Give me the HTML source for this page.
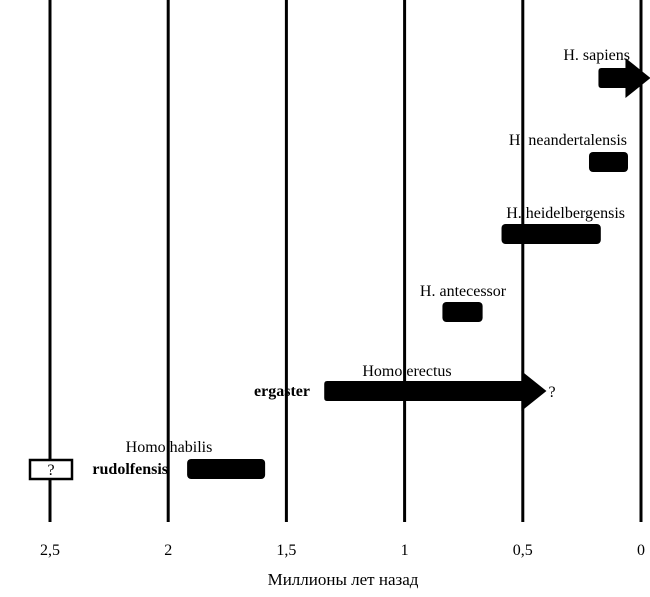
<!DOCTYPE html>
<html><head><meta charset="utf-8"><style>
html,body{margin:0;padding:0;background:#fff;}
svg{display:block;}
text{font-family:"Liberation Serif",serif;fill:#000;}
</style></head><body>
<svg id="chart" width="650" height="597" viewBox="0 0 650 597" xmlns="http://www.w3.org/2000/svg">
<g id="grid"></g><g id="bars"></g><g id="labels"></g>
<text x="343" y="585" font-size="17" text-anchor="middle">Миллионы лет назад</text>
</svg>
<script>
const ticks = [2.5, 2, 1.5, 1, 0.5, 0];
const tickLabels = ["2,5", "2", "1,5", "1", "0,5", "0"];
const species = ["H. sapiens", "H. neandertalensis", "H. heidelbergensis", "H. antecessor", "Homo erectus", "Homo habilis"];
const startMa = [0.18, 0.22, 0.59, 0.84, 1.34, 1.92];
const endMa = [-0.04, 0.055, 0.17, 0.67, 0.4, 1.59];
const arrow = [true, false, false, false, true, false];
const rowY = [78, 162, 234, 312, 391, 469];

const NS = "http://www.w3.org/2000/svg";
function x(v){ return 641 - v * 236.4; }
function mk(tag, attrs, parent){
  const e = document.createElementNS(NS, tag);
  for (const k in attrs) e.setAttribute(k, attrs[k]);
  parent.appendChild(e); return e;
}
const grid = document.getElementById('grid');
const bars = document.getElementById('bars');
const labels = document.getElementById('labels');

ticks.forEach((t, i) => {
  const l = mk('line', {x1: x(t), x2: x(t), y1: 0, y2: 522, stroke: '#000', 'stroke-width': 3}, grid);
  
  
  const tx = mk('text', {x: x(t), y: 555, 'font-size': 16, 'text-anchor': 'middle'}, grid);
  tx.textContent = tickLabels[i];
  
  
});

species.forEach((s, i) => {
  const x0 = x(startMa[i]), x1 = x(endMa[i]), cy = rowY[i];
  let el;
  if (arrow[i]) {
    const head = 25, hw = 20, sw = 10;
    const xs = x1 - head;
    el = mk('path', {d: `M${x0+3},${cy-sw} L${xs},${cy-sw} L${xs},${cy-hw} L${x1},${cy} L${xs},${cy+hw} L${xs},${cy+sw} L${x0+3},${cy+sw} Q${x0},${cy+sw} ${x0},${cy+sw-3} L${x0},${cy-sw+3} Q${x0},${cy-sw} ${x0+3},${cy-sw} Z`, fill: '#000'}, bars);
  } else {
    el = mk('rect', {x: x0, y: cy - 10, width: x1 - x0, height: 20, rx: 4, fill: '#000'}, bars);
  }
  
  
});

// labels
function label(t, xx, yy, anchor, bold, name){
  const e = mk('text', {x: xx, y: yy, 'font-size': 16, 'text-anchor': anchor}, labels);
  if (bold) e.setAttribute('font-weight', 'bold');
  e.textContent = t;
  
  
}
label("H. sapiens", 630, 60, 'end', false, 'label-sapiens');
label("H. neandertalensis", 627, 145, 'end', false, 'label-neandertalensis');
label("H. heidelbergensis", 625, 218, 'end', false, 'label-heidelbergensis');
label("H. antecessor", 463, 296, 'middle', false, 'label-antecessor');
label("Homo erectus", 407, 376, 'middle', false, 'label-erectus');
label("ergaster", 310, 396, 'end', true, 'label-ergaster');
label("?", 552, 397, 'middle', false, 'label-erectus-question');
label("Homo habilis", 169, 452, 'middle', false, 'label-habilis');
label("rudolfensis", 168, 474, 'end', true, 'label-rudolfensis');

const qb = mk('rect', {x: 30, y: 460, width: 42, height: 19, fill: '#fff', stroke: '#000', 'stroke-width': 2.5}, labels);


label("?", 51, 475, 'middle', false, 'label-uncertain');
</script>
</body></html>
